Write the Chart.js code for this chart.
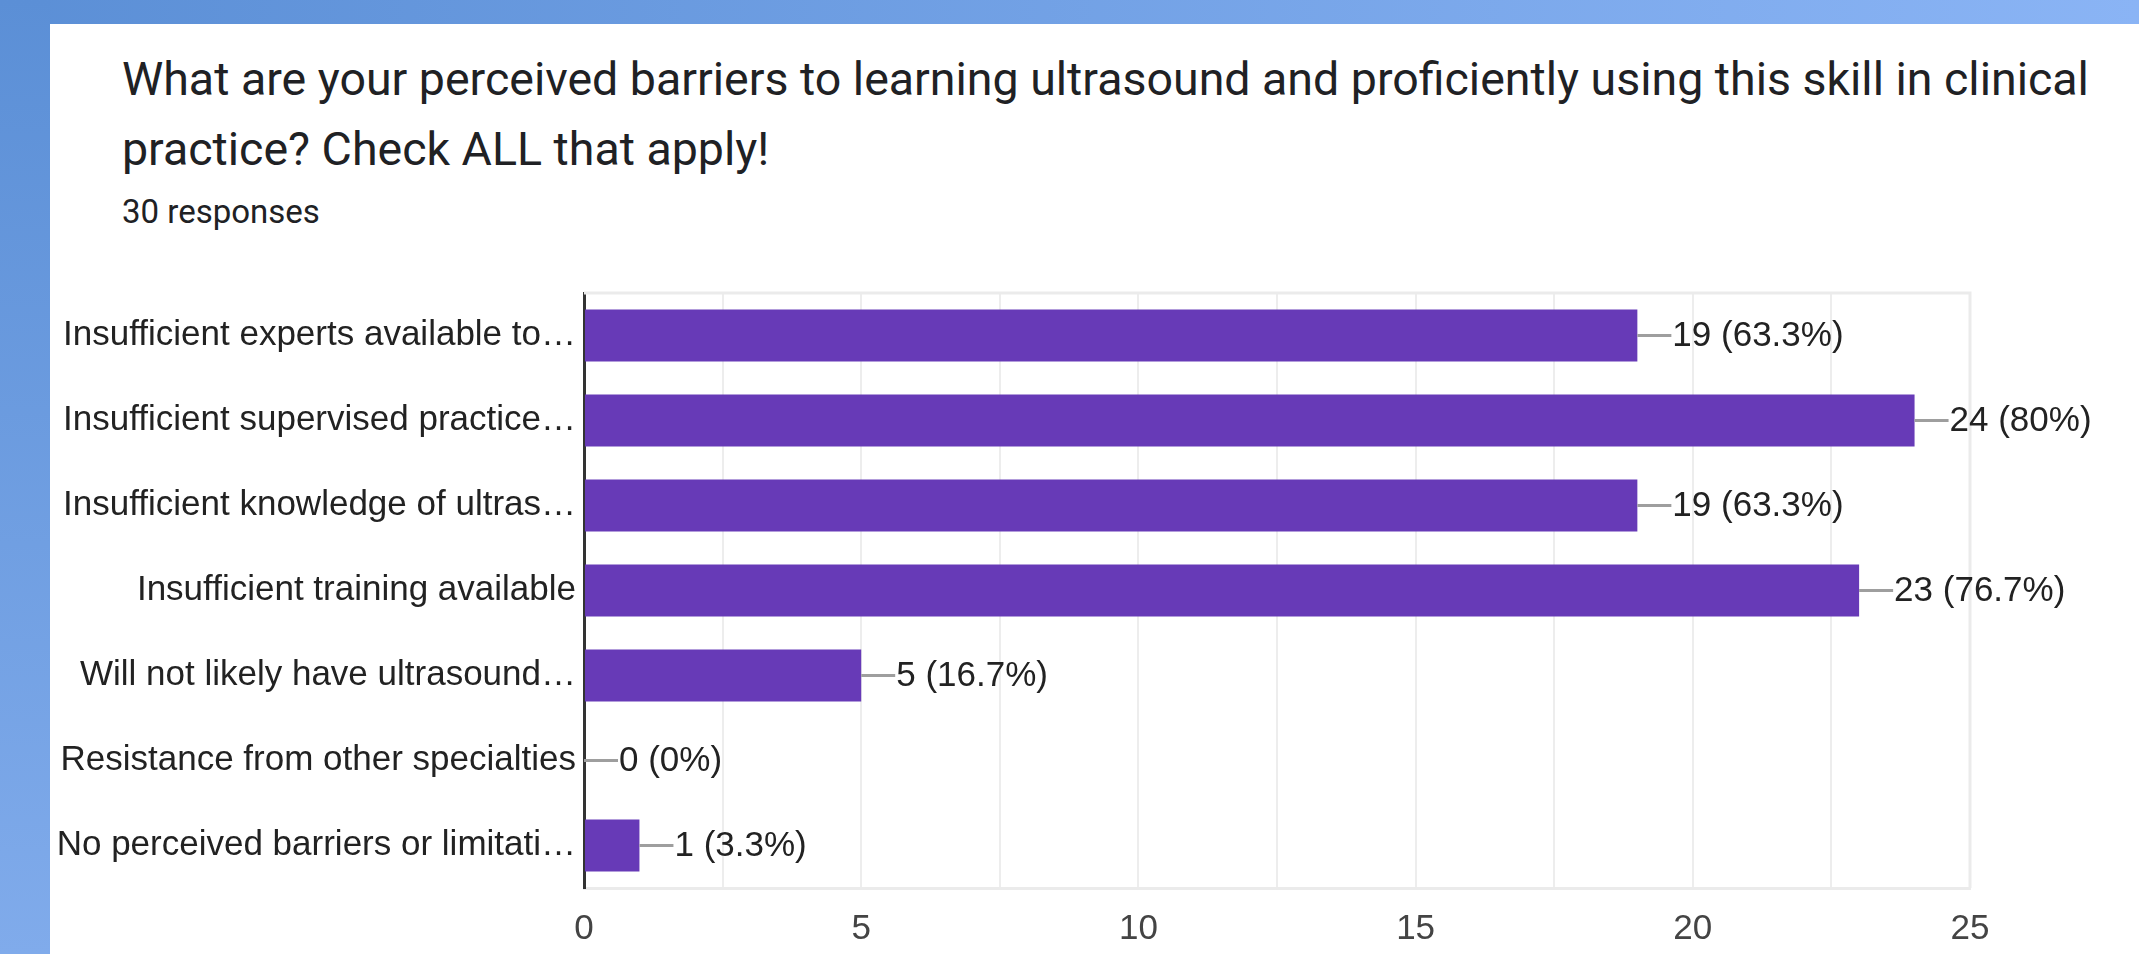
<!DOCTYPE html>
<html>
<head>
<meta charset="utf-8">
<script src="https://cdn.jsdelivr.net/npm/chart.js@4.4.1/dist/chart.umd.min.js"></script>
<style>
  html, body { margin: 0; padding: 0; width: 2139px; height: 954px; overflow: hidden; }
  body { position: relative; background: linear-gradient(to right, #5b8fd6, #8ab4f5); font-family: Roboto, "Open Sans", sans-serif; }
  #strip { position: absolute; left: 0; top: 0; width: 50px; height: 954px; background: linear-gradient(to bottom, #5b8fd6, #80abeb); }
  #card { position: absolute; left: 50px; top: 24px; right: 0; bottom: 0; background: #fff; }
  .title { position: absolute; left: 122px; white-space: nowrap; color: #202124; font-size: 46.5px; line-height: 70px; }
  #sub { position: absolute; left: 122px; top: 192px; white-space: nowrap; color: #202124; font-size: 33px; line-height: 40px; }
  canvas { position: absolute; left: 0; top: 0; }
</style>
</head>
<body>
<div id="strip"></div>
<div id="card"></div>
<div class="title" style="top:44px">What are your perceived barriers to learning ultrasound and proficiently using this skill in clinical</div>
<div class="title" style="top:114px">practice? Check ALL that apply!</div>
<div id="sub">30 responses</div>
<canvas id="myChart" width="2139" height="954"></canvas>
<script>
// labels as shown (Google truncates the long ones)
const categories = [
    'Insufficient experts available to\u2026',
    'Insufficient supervised practice\u2026',
    'Insufficient knowledge of ultras\u2026',
    'Insufficient training available',
    'Will not likely have ultrasound\u2026',
    'Resistance from other specialties',
    'No perceived barriers or limitati\u2026'
];
const responses = [19, 24, 19, 23, 5, 0, 1];
const totalResponses = 30;
const xTicks = [0, 5, 10, 15, 20, 25];

const labelFont = { family: '"Liberation Sans", Arial, sans-serif', size: 35 };

function pctText(v) {
    let p = Math.round(v / totalResponses * 1000) / 10;
    return v + ' (' + p + '%)';
}

// leader line + "n (p%)" after each bar
const valueLabels = {
    id: 'valueLabels',
    afterDatasetsDraw(chart) {
        const ctx = chart.ctx;
        const meta = chart.getDatasetMeta(0);
        ctx.save();
        ctx.font = labelFont.size + 'px ' + labelFont.family;
        ctx.textBaseline = 'middle';
        meta.data.forEach(function (bar, i) {
            ctx.strokeStyle = '#9e9e9e';
            ctx.lineWidth = 3;
            ctx.beginPath();
            ctx.moveTo(bar.x, bar.y);
            ctx.lineTo(bar.x + 34, bar.y);
            ctx.stroke();
            ctx.fillStyle = '#222222';
            ctx.fillText(pctText(responses[i]), bar.x + 35, bar.y + 1);
        });
        ctx.restore();
    }
};

// light frame on top and right of the plot
const plotFrame = {
    id: 'plotFrame',
    beforeDatasetsDraw(chart) {
        const a = chart.chartArea;
        const ctx = chart.ctx;
        ctx.save();
        ctx.strokeStyle = '#ebebeb';
        ctx.lineWidth = 3;
        ctx.beginPath();
        ctx.moveTo(a.left, a.top);
        ctx.lineTo(a.right, a.top);
        ctx.lineTo(a.right, a.bottom);
        ctx.stroke();
        ctx.restore();
    }
};

const ctx = document.getElementById('myChart').getContext('2d');

const myChart = new Chart(ctx, {
    type: 'bar',
    data: {
        labels: categories,
        datasets: [{
            data: responses,
            backgroundColor: '#673ab7',
            borderWidth: 0,
            barPercentage: 0.61,
            categoryPercentage: 1
        }]
    },
    options: {
        indexAxis: 'y',
        responsive: false,
        animation: false,
        layout: { padding: { top: 293, right: 169, bottom: 0, left: 0 } },
        plugins: {
            legend: { display: false },
            tooltip: { enabled: false }
        },
        scales: {
            x: {
                min: 0,
                max: 25,
                ticks: {
                    stepSize: 2.5,
                    autoSkip: false,
                    maxRotation: 0,
                    padding: 20,
                    color: '#444444',
                    font: labelFont,
                    callback: function (v) { return xTicks.includes(v) ? String(v) : ''; }
                },
                grid: { color: '#ededed', lineWidth: 2, drawTicks: false },
                border: { color: '#ebebeb', width: 3 },
                afterFit: function (scale) { scale.height = 66; }
            },
            y: {
                z: 1,
                ticks: { padding: 8, color: '#222222', font: labelFont, autoSkip: false },
                grid: { display: false, drawTicks: false },
                border: { color: '#333333', width: 3 },
                afterFit: function (scale) { scale.width = 584; }
            }
        }
    },
    plugins: [plotFrame, valueLabels]
});
</script>
</body>
</html>
